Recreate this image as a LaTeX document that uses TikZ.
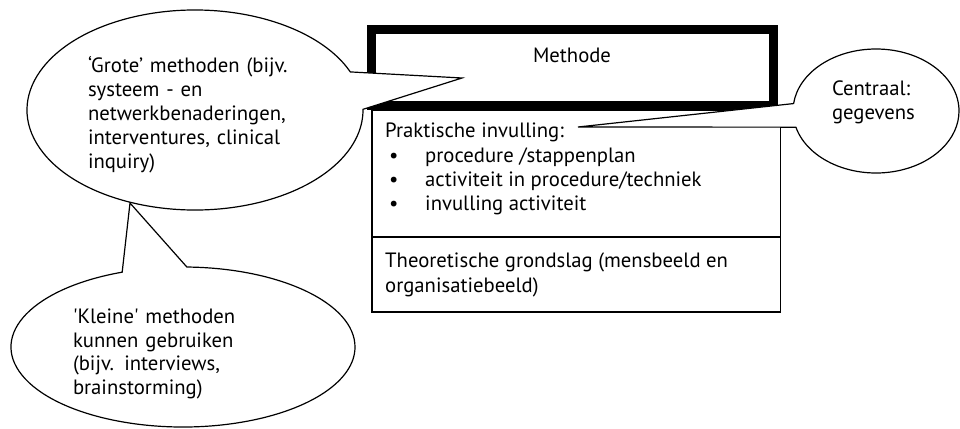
\documentclass[tikz,border=0pt]{standalone}
\usepackage{fontspec}
\setmainfont{PT Sans}
\usetikzlibrary{shapes.callouts,positioning}

\tikzset{
  bubble/.style={ellipse callout, draw, fill=white, line width=1.2pt,
    inner sep=0pt, align=left, callout pointer arc=22},
  boxline/.style={anchor=base west, inner sep=0pt}
}

\begin{document}
\begin{tikzpicture}[x=1pt, y=-1pt, font=\fontsize{20.7}{24}\selectfont]
  \useasboundingbox (0,0) rectangle (960,428);
  % Methode (thick frame)
  \draw[line width=9pt] (371.5,30) rectangle (773.5,105.5);
  \node[anchor=base, inner sep=0pt] (methode) at (572,63) {Methode};
  % lower box, two parts
  \draw[line width=1.3pt] (372,110) rectangle (780.5,312);
  \draw[line width=1.3pt] (372,237) -- (780.5,237);
  \node[boxline] (prak) at (385,137) {Praktische invulling:};
  \node[boxline] (stap1) at (389,162) {\makebox[36pt][l]{\textbullet}procedure /stappenplan};
  \node[boxline] (stap2) at (389,186) {\makebox[36pt][l]{\textbullet}activiteit in procedure/techniek};
  \node[boxline] (stap3) at (389,210) {\makebox[36pt][l]{\textbullet}invulling activiteit};
  \node[boxline] (theo1) at (385,267) {Theoretische grondslag (mensbeeld en};
  \node[boxline] (theo2) at (385,292) {organisatiebeeld)};
  % callouts
  \node[bubble, minimum width=336pt, minimum height=200pt, text width=214pt,
    callout absolute pointer={(462,78)}] (grote) at (195,110)
    {\rule{0pt}{25pt}‘Grote’ methoden (bijv.\\ systeem - en\\ netwerkbenaderingen,\\ interventures, clinical\\ inquiry)};
  \node[bubble, minimum width=344pt, minimum height=160pt, text width=220pt,
    callout absolute pointer={(130,203)}] (kleine) at (183,347)
    {\rule{0pt}{29pt}\textquotesingle Kleine\textquotesingle{} methoden\\[-0.5pt] kunnen gebruiken\\[-0.5pt] (bijv. interviews,\\[-0.5pt] brainstorming)};
  \node[bubble, minimum width=166pt, minimum height=124pt, text width=88pt,
    callout absolute pointer={(578,127)}] (centraal) at (876,111)
    {Centraal:\\ gegevens\rule[-21pt]{0pt}{0pt}};
\end{tikzpicture}
\end{document}
